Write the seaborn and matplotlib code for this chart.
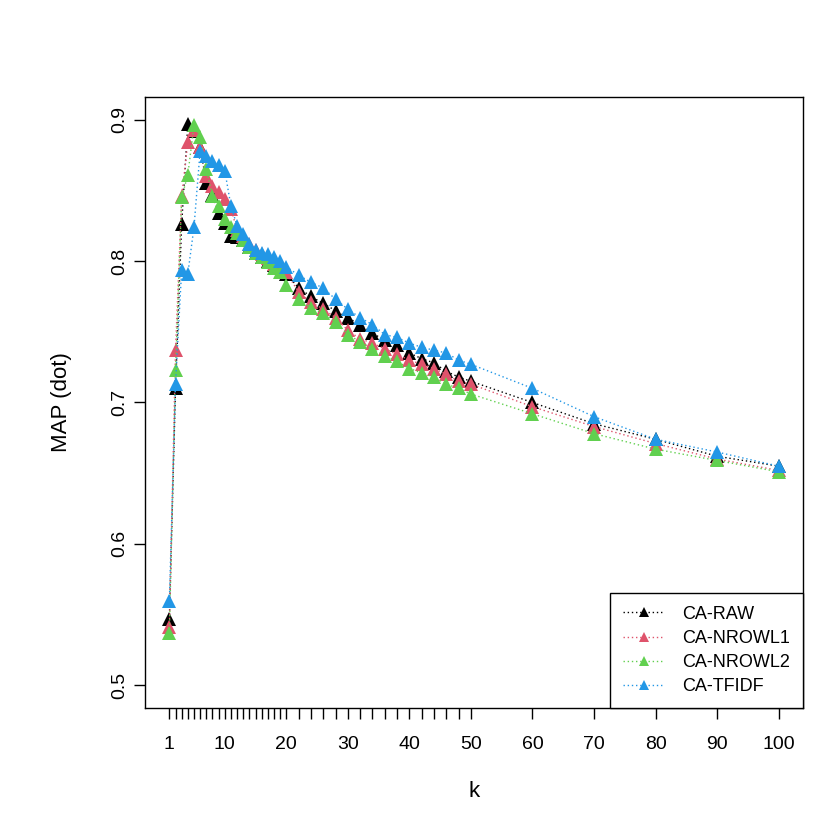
import numpy as np
import pandas as pd
import matplotlib
matplotlib.use("Agg")
import matplotlib.pyplot as plt
import seaborn as sns

# k values used in the evaluation
k_values = list(range(1, 21)) + list(range(22, 51, 2)) + [60, 70, 80, 90, 100]

# MAP (dot) per method
ca_raw = [0.547, 0.710, 0.826, 0.897, 0.892, 0.881, 0.855, 0.847, 0.834, 0.827,
          0.818, 0.817, 0.815, 0.810, 0.806, 0.803, 0.800, 0.797, 0.795, 0.791,
          0.781, 0.775, 0.770, 0.765, 0.760, 0.755, 0.749, 0.744, 0.741, 0.735,
          0.731, 0.728, 0.722, 0.718, 0.715,
          0.700, 0.685, 0.674, 0.662, 0.655]
ca_nrowl1 = [0.541, 0.737, 0.846, 0.884, 0.893, 0.881, 0.860, 0.853, 0.849, 0.844,
             0.837, 0.822, 0.818, 0.812, 0.808, 0.805, 0.802, 0.798, 0.795, 0.792,
             0.778, 0.771, 0.766, 0.760, 0.751, 0.745, 0.742, 0.738, 0.734, 0.730,
             0.727, 0.724, 0.720, 0.715, 0.713,
             0.697, 0.683, 0.671, 0.660, 0.652]
ca_nrowl2 = [0.537, 0.723, 0.845, 0.861, 0.896, 0.888, 0.865, 0.846, 0.839, 0.830,
             0.824, 0.820, 0.815, 0.810, 0.806, 0.803, 0.799, 0.795, 0.792, 0.783,
             0.773, 0.767, 0.763, 0.757, 0.748, 0.743, 0.738, 0.733, 0.729, 0.724,
             0.721, 0.718, 0.713, 0.710, 0.706,
             0.692, 0.678, 0.667, 0.659, 0.651]
ca_tfidf = [0.560, 0.713, 0.794, 0.791, 0.824, 0.878, 0.874, 0.871, 0.868, 0.864,
            0.839, 0.825, 0.819, 0.812, 0.808, 0.806, 0.805, 0.803, 0.800, 0.796,
            0.790, 0.785, 0.781, 0.773, 0.766, 0.760, 0.755, 0.748, 0.746, 0.742,
            0.739, 0.737, 0.735, 0.730, 0.727,
            0.710, 0.690, 0.674, 0.665, 0.655]

methods = ["CA-RAW", "CA-NROWL1", "CA-NROWL2", "CA-TFIDF"]
colors = ["#000000", "#DF536B", "#61D04F", "#2297E6"]

x_labels = [1, 10, 20, 30, 40, 50, 60, 70, 80, 90, 100]
y_ticks = [0.5, 0.6, 0.7, 0.8, 0.9]

sns.set_style("white")
plt.rcParams["font.family"] = ["Liberation Sans", "DejaVu Sans"]
plt.rcParams["text.color"] = "black"
plt.rcParams["axes.labelcolor"] = "black"

fig = plt.figure(figsize=(8.3, 8.3), dpi=100)
ax = fig.add_axes([145 / 830, 1 - 708 / 830, (803 - 145) / 830, (708 - 97) / 830])

for name, vals, c in zip(methods, [ca_raw, ca_nrowl1, ca_nrowl2, ca_tfidf], colors):
    sns.lineplot(x=k_values, y=vals, ax=ax, color=c, linestyle=(0, (1, 2)),
                 linewidth=1, marker="^", markersize=10, markeredgewidth=0,
                 label=name)

ax.set_xlim(1 - 0.04 * 99, 100 + 0.04 * 99)
ax.set_ylim(0.5 - 0.016, 0.9 + 0.016)

ax.set_xticks(k_values)
ax.set_xticklabels([str(k) if k in x_labels else "" for k in k_values])
ax.set_yticks(y_ticks)
ax.set_yticklabels([f"{v:.1f}" for v in y_ticks], rotation=90, va="center")
ax.tick_params(axis="both", direction="out", length=8, width=1, color="black",
               labelsize=14, labelcolor="black", bottom=True, left=True)
ax.tick_params(axis="x", pad=12)
ax.tick_params(axis="y", pad=4)

for sp in ax.spines.values():
    sp.set_visible(True)
    sp.set_color("black")
    sp.set_linewidth(1)

ax.set_xlabel("k", fontsize=16, labelpad=20)
ax.set_ylabel("MAP (dot)", fontsize=16, labelpad=28)
ax.grid(False)

leg = ax.legend(loc="lower right", fontsize=13, frameon=True, fancybox=False,
                edgecolor="black", framealpha=1, borderaxespad=0,
                handlelength=2.3, handletextpad=1.0, labelspacing=0.4,
                borderpad=0.7, markerscale=0.75)
leg.get_frame().set_linewidth(1)

fig.savefig("out.png", dpi=100)
